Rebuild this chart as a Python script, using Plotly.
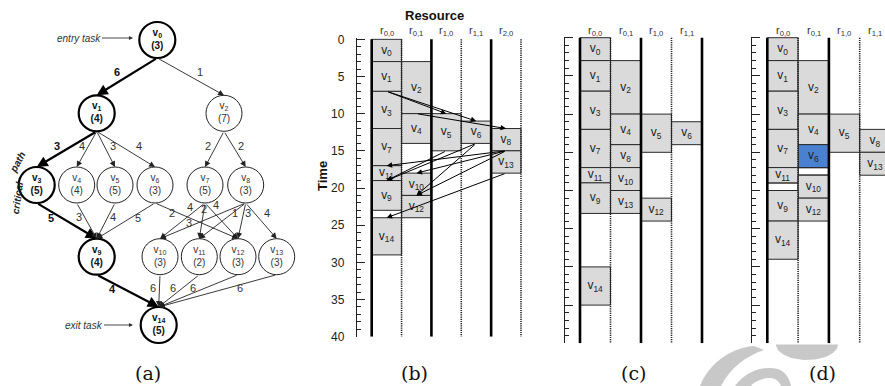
import plotly.graph_objects as go
import math

W, H = 885, 386
FONT = "Liberation Sans, Arial, sans-serif"
SERIF = "DejaVu Serif, Liberation Serif, serif"

# ---------------- DAG data ----------------
node_cost = [3, 4, 7, 5, 4, 5, 3, 5, 3, 4, 3, 2, 3, 3, 5]
critical_nodes = [0, 1, 3, 9, 14]
edge_src = [0, 0, 1, 1, 1, 1, 2, 2, 3, 4, 5, 6, 6, 7, 7, 7, 8, 8, 8, 8, 9, 10, 11, 12, 13]
edge_dst = [1, 2, 3, 4, 5, 6, 7, 8, 9, 9, 9, 9, 12, 10, 11, 12, 10, 11, 12, 13, 14, 14, 14, 14, 14]
edge_w = [6, 1, 3, 4, 3, 4, 2, 2, 5, 3, 4, 5, 2, 4, 2, 4, 3, 1, 3, 4, 4, 6, 6, 6, 6]
critical_edges = [(0, 1), (1, 3), (3, 9), (9, 14)]

# ---------------- schedules ----------------
res_b = ["0,0", "0,1", "1,0", "1,1", "2,0"]
b_tasks = [0, 1, 2, 3, 4, 5, 6, 7, 8, 13, 11, 10, 9, 12, 14]
b_col = [0, 0, 1, 0, 1, 2, 3, 0, 4, 4, 0, 1, 0, 1, 0]
b_start = [0, 3, 3, 7, 10, 10, 11, 12, 12, 15, 17, 18, 19, 21, 24]
b_end = [3, 7, 10, 12, 14, 15, 14, 17, 15, 18, 19, 21, 23, 24, 29]
b_comm_src = [1, 1, 2, 5, 6, 6, 8, 8, 8, 13]
b_comm_dst = [5, 6, 8, 9, 9, 12, 10, 11, 12, 14]

res_c = ["0,0", "0,1", "1,0", "1,1"]
c_tasks = [0, 1, 2, 3, 4, 5, 6, 7, 8, 11, 10, 9, 13, 12, 14]
c_col = [0, 0, 1, 0, 1, 2, 3, 0, 1, 0, 1, 0, 1, 2, 0]
c_start = [0, 3, 3, 7, 10, 10, 11, 12, 14, 17, 17, 19, 20, 21, 30]
c_end = [3, 7, 10, 12, 14, 15, 14, 17, 17, 19, 20, 23, 23, 24, 35]

res_d = ["0,0", "0,1", "1,0", "1,1"]
d_tasks = [0, 1, 2, 3, 4, 5, 8, 13, 6, 7, 11, 10, 9, 12, 14]
d_col = [0, 0, 1, 0, 1, 2, 3, 3, 1, 0, 0, 1, 0, 1, 0]
d_start = [0, 3, 3, 7, 10, 10, 12, 15, 14, 12, 17, 18, 20, 21, 24]
d_end = [3, 7, 10, 12, 14, 15, 15, 18, 17, 17, 19, 21, 24, 24, 29]
d_highlight = [6]
d_idle_col = [0, 1]
d_idle_start = [19, 17]
d_idle_end = [20, 18]

time_ticks = [0, 5, 10, 15, 20, 25, 30, 35, 40]

# ---------------- layout geometry (pixels) ----------------
node_x = [157.3, 96.7, 224, 36.7, 76.7, 115, 155, 205, 245.7, 96.7, 160, 199.3, 238, 276.7, 158.7]
node_y = [40, 113.3, 113.3, 185, 185, 185, 185, 185, 185, 256.7, 256.7, 256.7, 256.7, 256.7, 325]
R = 18
edge_lbl = [(116.7, 71.7), (200, 71.7), (57.3, 145.7), (81.7, 145.7), (113.3, 145.7), (139.3, 145.7),
            (208.3, 145.7), (240.7, 145.7), (50.7, 217.7), (79, 216.7), (113.3, 216.7), (137.7, 218),
            (171.7, 213.3), (190, 206.7), (204, 209.3), (216, 205), (189, 223.3), (235, 213.3),
            (248.3, 213.3), (266.7, 213.3), (112.7, 289), (153.3, 288.3), (173.3, 288.3),
            (193.3, 288.3), (240, 288.3)]

fig = go.Figure()

# faint watermark bowl (decoration, drawn first so it sits underneath)
wm = "#c8c8c8"
bowl_cx, bowl_cy, bowl_rx, bowl_ry = 807, 344.5, 31, 15.5
ang = [math.pi * k / 40 for k in range(41)]
fig.add_trace(go.Scatter(
    x=[bowl_cx + bowl_rx * math.cos(a) for a in ang], y=[bowl_cy + bowl_ry * math.sin(a) for a in ang],
    mode="lines", fill="toself", fillcolor=wm, line=dict(width=0, color=wm),
    xaxis="x", yaxis="y", hoverinfo="skip", showlegend=False))

# ---------- DAG ----------
crit = set(critical_nodes)
for is_crit in (True, False):
    idx = [i for i in range(len(node_cost)) if (i in crit) == is_crit]
    if is_crit:
        texts = [f"<b>v<sub>{i}</sub></b><br><b>({node_cost[i]})</b>" for i in idx]
    else:
        texts = [f"v<sub>{i}</sub><br>({node_cost[i]})" for i in idx]
    fig.add_trace(go.Scatter(
        x=[node_x[i] for i in idx], y=[node_y[i] for i in idx],
        mode="markers+text", text=texts, textposition="middle center",
        textfont=dict(size=10, family=FONT, color="#111" if is_crit else "#333"),
        marker=dict(size=2 * R, color="white",
                    line=dict(color="black" if is_crit else "#222", width=2.2 if is_crit else 1)),
        xaxis="x", yaxis="y", hoverinfo="skip", showlegend=False, cliponaxis=False))

annotations = []


def label(x, y, text, size, family=FONT, color="#111", xref="x", yref="y", angle=0):
    annotations.append(dict(x=x, y=y, xref=xref, yref=yref, text=text, showarrow=False,
                            xanchor="center", yanchor="middle", textangle=angle,
                            font=dict(size=size, family=family, color=color)))


for k, (s, d, w) in enumerate(zip(edge_src, edge_dst, edge_w)):
    c = (s, d) in critical_edges
    annotations.append(dict(
        x=node_x[d], y=node_y[d] - R, ax=node_x[s], ay=node_y[s] + R,
        xref="x", yref="y", axref="x", ayref="y", text="", showarrow=True,
        arrowhead=2, arrowsize=1.0 if c else 1.3, arrowwidth=2.2 if c else 0.9,
        arrowcolor="black" if c else "#222", standoff=0))
    lx, ly = edge_lbl[k]
    label(lx, ly, f"<b>{w}</b>" if c else str(w), 11, color="#111" if c else "#333")

# entry / exit labels
annotations.append(dict(x=133, y=38, ax=78.5 - 133, ay=0, xref="x", yref="y", text="<i>entry task</i>",
                        showarrow=True, arrowhead=2, arrowsize=0.9, arrowwidth=0.9, arrowcolor="#333",
                        font=dict(size=10, family=FONT, color="#333")))
annotations.append(dict(x=133, y=325, ax=83.5 - 133, ay=0, xref="x", yref="y", text="<i>exit task</i>",
                        showarrow=True, arrowhead=2, arrowsize=0.9, arrowwidth=0.9, arrowcolor="#333",
                        font=dict(size=10, family=FONT, color="#333")))
label(17, 198, "<b><i>critical</i></b>", 10, color="#222", angle=-82)
label(17, 162, "<b><i>path</i></b>", 10, color="#222", angle=-62)


# ---------- Gantt panels ----------
def add_panel(n, col_left, col_w, axis_px, right_px, y0_px, y_scale, res, styles,
              tasks, cols, starts, ends, show_ticklabels, highlight=(), idle=None):
    xa, ya = f"x{n}", f"y{n}"
    xr0 = -(col_left - axis_px) / col_w
    xr1 = (right_px - col_left) / col_w
    top_px = y0_px - 0.15 * y_scale
    bot_px = y0_px + 40 * y_scale
    fig.update_layout(**{
        f"xaxis{n}": dict(domain=[axis_px / W, min(1.0, right_px / W)], range=[xr0, xr1],
                          visible=False, anchor=ya, fixedrange=True),
        f"yaxis{n}": dict(domain=[1 - bot_px / H, 1 - top_px / H], range=[40, -0.15], anchor=xa,
                          showline=True, linecolor="#222", linewidth=1, ticks="inside", ticklen=8,
                          tickwidth=1, tickcolor="#222", tickvals=time_ticks,
                          showticklabels=show_ticklabels, ticklabelstandoff=9,
                          tickfont=dict(size=12, family=FONT, color="#222"),
                          minor=dict(dtick=1, tick0=0, ticks="inside", ticklen=4, tickcolor="#222",
                                     tickwidth=1),
                          showgrid=False, zeroline=False, fixedrange=True, automargin=False),
    })
    if idle is not None:
        ic, istart, iend = idle
        fig.add_trace(go.Bar(x=[c + 0.5 for c in ic], base=istart, y=[e - s for s, e in zip(istart, iend)],
                             width=1, marker=dict(color="white", line=dict(color="#111", width=1.2)),
                             xaxis=xa, yaxis=ya, hoverinfo="skip", showlegend=False))
    colors = ["#4a80d0" if t in highlight else "#dadada" for t in tasks]
    fig.add_trace(go.Bar(
        x=[c + 0.5 for c in cols], base=starts, y=[e - s for s, e in zip(starts, ends)], width=1,
        marker=dict(color=colors, line=dict(color="#2a2a2a", width=1)),
        text=[f"v<sub>{t}</sub>" for t in tasks], textposition="inside", insidetextanchor="middle",
        textangle=0, constraintext="none",
        textfont=dict(size=12, family=FONT, color="#222"),
        xaxis=xa, yaxis=ya, hoverinfo="skip", showlegend=False))
    for k, st in enumerate(styles):
        if st == "T":
            line = dict(color="black", width=2.6)
        else:
            line = dict(color="#222", width=1.6, dash="1.2px,1px")
        fig.add_shape(type="line", xref=xa, yref=ya, x0=k, x1=k, y0=0, y1=40, line=line, layer="above")
    for k, r in enumerate(res):
        label(k + 0.5, 1 - 31 / H, f"r<sub>{r}</sub>", 11, color="#333", xref=xa, yref="paper")
    return xa, ya


xb, yb = add_panel(2, 371.7, 29.86, 356.8, 524.5, 39.3, 7.435, res_b, "TDTDTD",
                   b_tasks, b_col, b_start, b_end, True)
add_panel(3, 580, 30.5, 565, 705.5, 37.7, 7.64, res_c, "TDTDT",
          c_tasks, c_col, c_start, c_end, False)
add_panel(4, 767.3, 30.8, 751.7, 885, 37.7, 7.64, res_d, "TDTD",
          d_tasks, d_col, d_start, d_end, False, highlight=d_highlight,
          idle=(d_idle_col, d_idle_start, d_idle_end))

# communication arrows in (b)
pos = {t: (c, s, e) for t, c, s, e in zip(b_tasks, b_col, b_start, b_end)}
for s, d in zip(b_comm_src, b_comm_dst):
    cs, _, es = pos[s]
    cd, sd, _ = pos[d]
    annotations.append(dict(x=cd + 0.5, y=sd, ax=cs + 0.5, ay=es, xref=xb, yref=yb, axref=xb, ayref=yb,
                            text="", showarrow=True, arrowhead=2, arrowsize=1.1, arrowwidth=1,
                            arrowcolor="black", standoff=0))

# titles
label(434 / W, 1 - 15 / H, "<b>Resource</b>", 13, xref="paper", yref="paper")
label(322 / W, 1 - 176 / H, "<b>Time</b>", 13, xref="paper", yref="paper", angle=-90)
for lbl, px in zip(["(a)", "(b)", "(c)", "(d)"], [148, 414, 633, 822]):
    label(px / W, 1 - 373 / H, lbl, 19, family=SERIF, xref="paper", yref="paper")

# faint watermark swoosh in the lower right corner
shapes_wm = [
    "M 700,386 C 708,366 728,348 754,346 L 764,350 C 746,356 730,368 721,386 Z",
    "M 735,386 C 745,372 762,365 778,369 C 786,372 790,380 791,386 L 781,386 C 778,378 770,376 760,380 C 755,382 752,384 751,386 Z",
]
for p in shapes_wm:
    fig.add_shape(type="path", path=p, xref="x", yref="y", fillcolor=wm, line=dict(width=0), layer="above")

fig.update_layout(
    width=W, height=H, margin=dict(l=0, r=0, t=0, b=0, autoexpand=False),
    paper_bgcolor="white", plot_bgcolor="rgba(0,0,0,0)",
    xaxis=dict(domain=[0, 1], range=[0, W], visible=False, fixedrange=True),
    yaxis=dict(domain=[0, 1], range=[H, 0], visible=False, fixedrange=True),
    barmode="overlay", bargap=0, showlegend=False,
    annotations=annotations,
)

fig.write_html("out.html", config={"displayModeBar": False, "staticPlot": True},
               post_script="document.body.style.margin='0px';document.body.style.padding='0px';")
